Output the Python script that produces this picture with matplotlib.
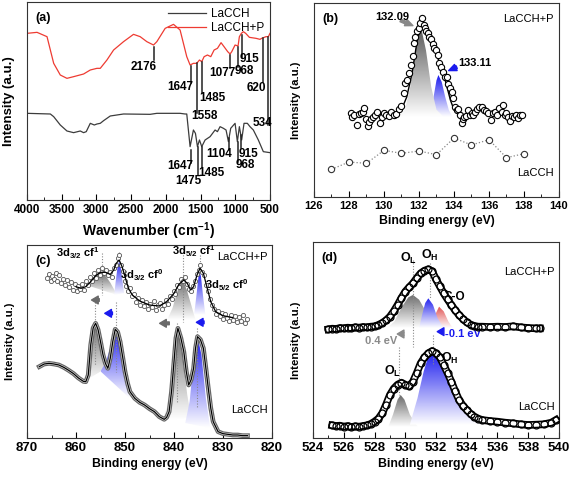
import numpy as np
import matplotlib
matplotlib.use('Agg')
import matplotlib.pyplot as plt
import matplotlib.colors as mcolors
import matplotlib.patheffects as pe
from matplotlib.patches import Polygon
from matplotlib.ticker import MultipleLocator

plt.rcParams['font.family'] = ['Liberation Sans', 'DejaVu Sans']
plt.rcParams['mathtext.fontset'] = 'custom'
plt.rcParams['mathtext.rm'] = 'Liberation Sans:bold'
plt.rcParams['mathtext.it'] = 'Liberation Sans:bold'
plt.rcParams['mathtext.bf'] = 'Liberation Sans:bold'

RED = '#ee3b32'
DARK = '#3c3c3c'
GREY = '#6a6a6a'
BLUE = '#1a1aee'

# ---------------- (a) FTIR ----------------
wn_p = [4000, 3856, 3712, 3664, 3616, 3521, 3425, 3329, 3185, 3089, 2993, 2945, 2849, 2753,
        2610, 2466, 2370, 2274, 2178, 2130, 2010, 1890, 1795, 1747, 1699, 1651, 1603, 1555,
        1516, 1483, 1449, 1401, 1353, 1305, 1257, 1205, 1162, 1109, 1075, 1051, 1003, 960,
        941, 912, 884, 850, 797, 701, 644, 620, 558, 524, 500]
ftir_p = [500, 503, 490, 450, 410, 375, 365, 370, 378, 390, 395, 395, 420, 450,
          475, 497, 490, 475, 465, 475, 515, 527, 510, 470, 430, 405, 410, 410,
          420, 415, 430, 435, 430, 450, 455, 472, 460, 445, 438, 445, 465, 462,
          490, 500, 505, 500, 488, 485, 482, 485, 490, 490, 500]
wn_0 = [4000, 3664, 3616, 3521, 3425, 3329, 3233, 3185, 3147, 3089, 3031, 2993, 2945, 2897,
        2801, 2610, 2226, 2130, 1795, 1723, 1699, 1651, 1603, 1574, 1545, 1516, 1483, 1435,
        1363, 1291, 1257, 1219, 1171, 1133, 1099, 1066, 1003, 970, 941, 908, 874, 826,
        788, 740, 668, 596, 500]
ftir_0 = [260, 258, 250, 225, 207, 202, 207, 202, 205, 230, 225, 228, 230, 238,
          252, 258, 257, 260, 260, 258, 258, 160, 210, 200, 160, 180, 160, 180,
          190, 210, 205, 220, 215, 210, 175, 215, 230, 175, 220, 180, 230, 230,
          220, 210, 180, 145, 142]

mark_p_x = [2168, 1641, 1555, 1483, 1075, 955, 908, 605, 524]
mark_p_top = [460, 402, 410, 415, 435, 460, 495, 485, 490]
mark_p_bot = [420, 350, 260, 320, 395, 400, 430, 355, 225]
mark_p_txt = ['2176', '1647', '1558', '1485', '1077', '968', '915', '620', '534']
mark_p_tx = [2322, 1795, 1444, 1334, 1181, 874, 797, 701, 615]
mark_p_ty = [400, 340, 252, 305, 382, 387, 422, 335, 230]

mark_0_x = [1641, 1540, 1473, 1095, 965, 912]
mark_0_top = [150, 160, 160, 185, 175, 195]
mark_0_bot = [110, 75, 100, 150, 115, 155]
mark_0_txt = ['1647', '1475', '1485', '1104', '968', '915']
mark_0_tx = [1795, 1679, 1344, 1229, 860, 807]
mark_0_ty = [103, 58, 80, 137, 105, 138]

# ---------------- (b) P 2p ----------------
p_be = [128.09, 128.18, 128.31, 128.43, 128.56, 128.69, 128.81, 128.88, 129.00, 129.07,
        129.13, 129.26, 129.38, 129.51, 129.60, 129.76, 129.89, 130.02, 130.14, 130.27,
        130.40, 130.55, 130.71, 130.84, 130.97, 131.12, 131.22, 131.31, 131.41, 131.54,
        131.65, 131.69, 131.79, 131.88, 131.98, 132.07, 132.17, 132.26, 132.32, 132.41,
        132.49, 132.58, 132.68, 132.79, 132.87, 132.96, 133.06, 133.17, 133.27, 133.36,
        133.49, 133.59, 133.68, 133.78, 133.87, 133.97, 134.06, 134.16, 134.25, 134.35,
        134.44, 134.50, 134.58, 134.69, 134.82, 134.92, 135.01, 135.11, 135.20, 135.33,
        135.45, 135.58, 135.71, 135.83, 135.96, 136.09, 136.21, 136.34, 136.47, 136.59,
        136.72, 136.81, 136.91, 137.00, 137.10, 137.19, 137.29, 137.42, 137.53, 137.67,
        137.76, 137.86]
p_int = [251, 239, 246, 216, 249, 251, 256, 266, 233, 213,
         226, 233, 239, 246, 256, 221, 241, 251, 246, 243,
         256, 246, 249, 263, 273, 313, 341, 351, 371, 396,
         423, 461, 481, 499, 506, 521, 536, 516, 506, 499,
         491, 481, 473, 458, 446, 441, 426, 403, 391, 376,
         359, 361, 339, 326, 316, 296, 271, 261, 263, 246,
         221, 233, 239, 243, 261, 246, 251, 246, 256, 263,
         269, 269, 261, 259, 253, 231, 251, 256, 246, 266,
         256, 276, 246, 253, 239, 229, 243, 241, 246, 236,
         246, 246]
p_fit_be = [129.6, 130.5, 131.0, 131.3, 131.6, 131.9, 132.1, 132.3, 132.6, 132.9,
            133.2, 133.5, 133.8, 134.0, 134.3]
p_fit = [248, 250, 262, 300, 370, 470, 512, 505, 470, 440, 400, 350, 290, 262, 250]
p_grey_be = [130.8, 131.2, 131.5, 131.8, 132.09, 132.4, 132.7, 133.0, 133.4]
p_grey = [241, 262, 330, 440, 516, 440, 330, 262, 241]
p_blue_be = [132.6, 132.8, 133.0, 133.11, 133.3, 133.5, 133.7, 133.9]
p_blue = [241, 290, 350, 366, 345, 300, 262, 241]
lacch_be = [127, 128, 129, 130, 131, 132, 133, 134, 135, 136, 137, 138]
lacch_p = [83, 105, 101, 140, 131, 138, 127, 177, 156, 172, 118, 130]

# ---------------- (c) La 3d ----------------
la_up_be = [866.0, 865.6, 865.2, 864.9, 864.5, 864.1, 863.8, 863.4, 863.0, 862.6, 862.2,
            861.9, 861.5, 861.1, 860.7, 860.3, 859.9, 859.5, 859.1, 858.7, 858.3, 857.9,
            857.5, 857.1, 856.7, 856.3, 855.9, 855.5, 855.1, 854.7, 854.3, 853.9, 853.5,
            853.1, 852.7, 852.3, 851.9, 851.5, 851.2, 850.9, 850.5, 850.1, 849.7, 849.3,
            848.9, 848.5, 848.1, 847.7, 847.3, 846.9, 846.5, 846.1, 845.7, 845.3, 844.9,
            844.5, 844.1, 843.7, 843.3, 842.9, 842.5, 842.1, 841.7, 841.3, 840.9, 840.5,
            840.1, 839.7, 839.3, 838.9, 838.5, 838.1, 837.7, 837.3, 836.9, 836.5, 836.1,
            835.7, 835.3, 834.9, 834.6, 834.3, 833.9, 833.5, 833.1, 832.7, 832.3, 831.9,
            831.5, 831.1, 830.7, 830.3, 829.9, 829.5, 829.1, 828.7, 828.3, 827.9, 827.5,
            827.1, 826.7, 826.3, 825.9, 825.5, 825.1]
la_up = [480, 492, 470, 486, 476, 495, 472, 488, 465, 478, 460,
         475, 452, 468, 445, 462, 440, 455, 448, 462, 444, 470,
         458, 482, 470, 495, 480, 505, 490, 510, 495, 505, 488,
         498, 482, 510, 520, 540, 548, 520, 500, 470, 455, 440,
         450, 425, 432, 408, 420, 400, 415, 395, 408, 388, 402,
         392, 410, 385, 398, 405, 388, 400, 415, 402, 425, 418,
         440, 432, 458, 452, 478, 470, 482, 462, 448, 440, 455,
         470, 492, 505, 518, 498, 488, 460, 440, 418, 400, 388,
         372, 382, 365, 375, 358, 372, 360, 350, 368, 355, 365,
         348, 362, 352, 368, 345, 358]
la_up_fit_be = [860, 859, 858, 857, 856, 855, 854, 853, 852.3, 851.8, 851.2, 850.6, 850,
                849.3, 848.5, 847, 845, 843, 841.5, 840, 839, 838, 837.3, 836.6, 836,
                835.3, 834.7, 834, 833.3, 832.5, 831.5, 830, 828]
la_up_fit = [454, 449, 454, 469, 487, 497, 497, 491, 504, 524, 534, 514, 484,
             449, 429, 411, 399, 396, 409, 434, 461, 474, 464, 444, 454,
             489, 509, 494, 454, 409, 379, 367, 361]
la_lo_be = [867.5, 866.5, 865.5, 864.5, 863.5, 862.5, 861.5, 860.5, 859.5, 858.5, 858.0,
            857.5, 857.0, 856.5, 856.0, 855.5, 855.0, 854.5, 854.0, 853.5, 853.0, 852.5,
            852.0, 851.5, 851.0, 850.5, 850.0, 849.5, 849.0, 848.0, 847.0, 846.0, 845.0,
            844.0, 843.0, 842.0, 841.5, 841.0, 840.5, 840.0, 839.6, 839.2, 838.6, 838.0,
            837.5, 837.0, 836.5, 836.0, 835.6, 835.2, 834.6, 834.0, 833.5, 833.0, 832.5,
            832.0, 831.0, 830.0, 829.0, 828.0, 827.0, 826.0, 825.0]
la_lo = [214, 222, 224, 222, 219, 212, 203, 193, 180, 170, 169,
         189, 279, 330, 344, 325, 289, 250, 224, 209, 240, 289,
         326, 318, 289, 245, 199, 165, 139, 119, 107, 99, 88,
         79, 64, 56, 62, 79, 140, 229, 300, 329, 300, 259,
         200, 159, 175, 209, 270, 304, 295, 269, 210, 149, 90,
         49, 19, 13, 11, 9, 9, 7, 7]
la_peaks_be = [
    [857.9, 857.0, 856.2, 855.4, 854.6, 853.8, 853.0, 852.2, 851.6],
    [852.2, 851.9, 851.5, 851.2, 850.9, 850.6, 850.2],
    [841.4, 840.3, 839.3, 838.3, 837.4, 836.5, 835.6],
    [835.9, 835.4, 835.0, 834.8, 834.5, 834.1, 833.6],
    [858.1, 857.5, 856.8, 856.0, 855.3, 854.6, 853.8],
    [855.0, 854.0, 853.0, 852.3, 851.8, 851.2, 850.5, 849.8, 849.0],
    [842.4, 841.2, 840.2, 839.2, 838.3, 837.3, 836.5],
    [837.7, 836.8, 836.0, 835.2, 834.4, 833.5, 832.6],
]
la_peaks = [
    [459, 470, 486, 496, 494, 483, 466, 445, 429],
    [429, 470, 515, 529, 515, 480, 435],
    [354, 390, 440, 478, 445, 400, 354],
    [369, 430, 485, 501, 485, 430, 369],
    [172, 240, 310, 344, 310, 240, 210],
    [200, 225, 270, 315, 326, 310, 250, 170, 119],
    [54, 100, 230, 329, 250, 130, 60],
    [45, 110, 230, 304, 250, 120, 30],
]
la_peak_col = [GREY, BLUE, GREY, BLUE, GREY, BLUE, GREY, BLUE]
la_dot_be = [854.7, 851.2, 838.2, 834.7, 856.1, 851.9, 839.3, 835.3]
la_dot_top = [555, 559, 559, 549, 409, 409, 344, 329]
la_dot_bot = [430, 529, 349, 504, 219, 199, 109, 89]
la_arr = [(854.7, 857.4, 414, GREY), (852.0, 854.7, 374, BLUE),
          (840.4, 843.5, 344, GREY), (833.3, 836.0, 347, BLUE)]

# ---------------- (d) O 1s ----------------
o_up_be = [525.0, 525.25, 525.5, 525.75, 526.0, 526.25, 526.5, 526.75, 527.0, 527.25, 527.5,
           527.75, 528.0, 528.25, 528.5, 528.75, 529.0, 529.25, 529.5, 529.75, 530.0, 530.25,
           530.5, 530.75, 531.0, 531.25, 531.5, 531.75, 532.0, 532.25, 532.5, 532.75, 533.0,
           533.25, 533.5, 533.75, 534.0, 534.25, 534.5, 534.75, 535.0, 535.5, 536.0, 536.5,
           537.0, 537.5, 538.0, 538.5, 538.75]
o_up = [326, 328, 327, 330, 329, 331, 330, 332, 331, 333, 332,
        334, 335, 339, 345, 353, 364, 380, 399, 420, 439, 452,
        464, 480, 494, 502, 506, 500, 476, 455, 434, 416, 399,
        383, 369, 357, 347, 340, 336, 334, 334, 333, 334, 333,
        335, 332, 330, 329, 329]
o_lo_be = [525.25, 525.5, 525.75, 526.0, 526.25, 526.5, 526.75, 527.0, 527.25, 527.5, 527.75,
           528.0, 528.25, 528.5, 528.75, 529.0, 529.25, 529.5, 529.75, 530.0, 530.25, 530.5,
           530.75, 531.0, 531.25, 531.5, 531.75, 532.0, 532.25, 532.5, 532.75, 533.0, 533.25,
           533.5, 533.75, 534.0, 534.25, 534.5, 534.75, 535.0, 535.5, 536.0, 536.5, 537.0,
           537.5, 538.0, 538.5, 539.0, 539.5, 539.8]
o_lo = [38, 36, 37, 34, 36, 33, 35, 34, 36, 38, 42,
        49, 58, 74, 100, 129, 148, 160, 166, 160, 155, 169,
        195, 224, 242, 254, 261, 254, 242, 219, 195, 169, 140,
        114, 97, 84, 72, 64, 58, 54, 51, 49, 46, 44,
        41, 39, 40, 41, 46, 54]
o_peaks_be = [
    [528.8, 529.3, 529.8, 530.2, 530.5, 530.9, 531.4, 531.9, 532.3],
    [531.8, 532.0, 532.2, 532.5, 532.8, 533.1],
    [530.9, 531.1, 531.3, 531.5, 531.8, 532.1, 532.5],
    [528.9, 529.2, 529.5, 529.7, 529.95, 530.3, 530.8],
    [530.3, 530.8, 531.2, 531.5, 531.8, 532.2, 532.6, 533.0, 533.5, 534.0, 534.5, 535.5],
]
o_peaks = [
    [329, 350, 395, 422, 429, 415, 375, 340, 329],
    [329, 375, 394, 380, 350, 329],
    [329, 370, 405, 419, 400, 360, 329],
    [34, 70, 115, 129, 115, 70, 34],
    [40, 120, 200, 245, 264, 250, 210, 160, 110, 75, 55, 40],
]
o_peak_col = [GREY, '#e05050', BLUE, GREY, BLUE]
o_dot_be = [530.5, 531.6, 529.6, 531.8]
o_dot_top = [534, 524, 274, 310]
o_dot_bot = [274, 419, 129, 220]


def grad_peak(ax, x, y, color, z=2):
    x = np.asarray(x, float)
    y = np.asarray(y, float)
    poly = Polygon(np.column_stack([x, y]), closed=True, fc='none', ec='none')
    ax.add_patch(poly)
    cmap = mcolors.LinearSegmentedColormap.from_list('', ['white', color])
    ramp = np.linspace(0, 1, 128).reshape(-1, 1)
    im = ax.imshow(ramp, cmap=cmap, aspect='auto', origin='lower', interpolation='bilinear',
                   extent=[x.min(), x.max(), y.min(), y.max()], zorder=z)
    im.set_clip_path(poly)


def style_ax(ax, xlabel, maj, mnr, fs, xfs, yfs):
    ax.set_yticks([])
    ax.xaxis.set_major_locator(MultipleLocator(maj))
    ax.xaxis.set_minor_locator(MultipleLocator(mnr))
    ax.tick_params(axis='x', which='major', direction='in', length=4, width=0.8,
                   labelsize=fs, pad=3)
    ax.tick_params(axis='x', which='minor', direction='in', length=2, width=0.6)
    for lab in ax.get_xticklabels():
        lab.set_fontweight('bold')
    for s in ax.spines.values():
        s.set_linewidth(0.8)
        s.set_color('#333333')
    ax.set_xlabel(xlabel, fontsize=xfs, fontweight='bold', labelpad=3)
    ax.set_ylabel('Intensity (a.u.)', fontsize=yfs, fontweight='bold', labelpad=9)


def chain(ax, x, y, outer, inner, lw_o, lw_i, z=4):
    ax.plot(x, y, color=inner, lw=lw_i, zorder=z, solid_joinstyle='round',
            path_effects=[pe.Stroke(linewidth=lw_o, foreground=outer), pe.Normal()])


fig = plt.figure(figsize=(5.69, 4.79), dpi=100)
axa = fig.add_axes([0.0475, 0.5825, 0.427, 0.4133])
axb = fig.add_axes([0.5518, 0.5887, 0.4306, 0.405])
axc = fig.add_axes([0.0475, 0.0856, 0.4305, 0.4029])
axd = fig.add_axes([0.5501, 0.0856, 0.4323, 0.4092])

# (a)
axa.plot(wn_0, ftir_0, color=DARK, lw=0.9, label='LaCCH')
axa.plot(wn_p, ftir_p, color=RED, lw=0.9, label='LaCCH+P')
for x, t, b in zip(mark_p_x + mark_0_x, mark_p_top + mark_0_top, mark_p_bot + mark_0_bot):
    axa.plot([x, x], [t, b], color='#222222', lw=1.1)
for s, x, y in zip(mark_p_txt + mark_0_txt, mark_p_tx + mark_0_tx, mark_p_ty + mark_0_ty):
    axa.text(x, y, s, fontsize=8.5, fontweight='bold', ha='center', va='center')
axa.set_xlim(4000, 500)
axa.set_ylim(0, 594)
axa.legend(loc='upper right', frameon=False, fontsize=8.5, handlelength=3.2,
           borderaxespad=0.1, handletextpad=0.4, labelspacing=0.15)
axa.text(0.035, 0.95, '(a)', transform=axa.transAxes, fontsize=9, fontweight='bold', va='top')
style_ax(axa, 'Wavenumber (cm$^{-1}$)', 500, 250, 8.5, 10, 9.5)

# (b)
grad_peak(axb, p_blue_be, p_blue, BLUE, z=2)
grad_peak(axb, p_grey_be, p_grey, '#555555', z=2.5)
axb.plot(p_fit_be, p_fit, color='black', lw=1, zorder=3)
axb.plot(p_be, p_int, 'o', ms=4.5, mfc='white', mec='black', mew=0.8, zorder=4)
axb.plot(lacch_be, lacch_p, ':', color='#888888', lw=0.9, marker='o', ms=4.5,
         mfc='white', mec='#333333', mew=0.8)
axb.annotate('', xy=(131.8, 511), xytext=(130.8, 533),
             arrowprops=dict(arrowstyle='simple,head_width=0.6,head_length=0.7,tail_width=0.25',
                             color='#888888', mutation_scale=8))
axb.annotate('', xy=(133.55, 376), xytext=(134.3, 393),
             arrowprops=dict(arrowstyle='simple,head_width=0.6,head_length=0.7,tail_width=0.25',
                             color=BLUE, mutation_scale=8))
axb.text(130.45, 541, '132.09', fontsize=8, fontweight='bold', ha='center', va='center')
axb.text(135.2, 403, '133.11', fontsize=8, fontweight='bold', ha='center', va='center')
axb.text(139.7, 533, 'LaCCH+P', fontsize=8, ha='right', va='center')
axb.text(139.7, 71, 'LaCCH', fontsize=8, ha='right', va='center')
axb.text(0.035, 0.95, '(b)', transform=axb.transAxes, fontsize=9, fontweight='bold', va='top')
axb.set_xlim(126, 140)
axb.set_ylim(0, 582)
style_ax(axb, 'Binding energy (eV)', 2, 1, 8, 8.8, 8.2)

# (c)
for bx, by, col in zip(la_peaks_be, la_peaks, la_peak_col):
    grad_peak(axc, bx, by, col, z=2)
for x, t, b in zip(la_dot_be, la_dot_top, la_dot_bot):
    axc.plot([x, x], [t, b], ls=(0, (1, 1.5)), color='#8a8a8a', lw=0.8, zorder=3)
axc.plot(la_up_be, la_up, 'o', ms=3, mfc='white', mec='#555555', mew=0.6, zorder=4)
axc.plot(la_up_fit_be, la_up_fit, color='black', lw=0.9, zorder=5)
chain(axc, la_lo_be, la_lo, '#666666', '#eeeeee', 3.4, 1.6, z=4)
axc.plot(la_lo_be, la_lo, color='black', lw=0.9, zorder=5)
for x1, x0, y, col in la_arr:
    axc.annotate('', xy=(x0, y), xytext=(x1, y),
                 arrowprops=dict(arrowstyle='simple,head_width=0.7,head_length=0.6,tail_width=0.25',
                                 color=col, mutation_scale=8))
axc.text(859.7, 554, '3d$_{3/2}$ cf$^1$', fontsize=8, fontweight='bold', ha='center', va='center')
axc.text(846.7, 489, '3d$_{3/2}$ cf$^0$', fontsize=8, fontweight='bold', ha='center', va='center')
axc.text(835.9, 559, '3d$_{5/2}$ cf$^1$', fontsize=8, fontweight='bold', ha='center', va='center')
axc.text(829.2, 457, '3d$_{5/2}$ cf$^0$', fontsize=8, fontweight='bold', ha='center', va='center')
axc.text(820.8, 544, 'LaCCH+P', fontsize=8, ha='right', va='center')
axc.text(820.8, 84, 'LaCCH', fontsize=8, ha='right', va='center')
axc.text(0.035, 0.95, '(c)', transform=axc.transAxes, fontsize=9, fontweight='bold', va='top')
axc.set_xlim(870, 820)
axc.set_ylim(0, 579)
style_ax(axc, 'Binding energy (eV)', 10, 5, 9.5, 8.8, 8.2)

# (d)
for bx, by, col in zip(o_peaks_be, o_peaks, o_peak_col):
    grad_peak(axd, bx, by, col, z=2)
for x, t, b in zip(o_dot_be, o_dot_top, o_dot_bot):
    axd.plot([x, x], [t, b], ls=(0, (1, 1.5)), color='#8a8a8a', lw=0.8, zorder=3)
chain(axd, o_up_be, o_up, 'black', 'white', 5.5, 3, z=4)
axd.plot(o_up_be, o_up, 'o', ms=5, mfc='none', mec='black', mew=0.9, zorder=5)
chain(axd, o_lo_be, o_lo, 'black', 'white', 5.5, 3, z=4)
axd.plot(o_lo_be, o_lo, 'o', ms=5, mfc='none', mec='black', mew=0.9, zorder=5)
axd.annotate('', xy=(529.3, 312), xytext=(530.1, 312),
             arrowprops=dict(arrowstyle='simple,head_width=0.7,head_length=0.6,tail_width=0.25',
                             color='#8a8a8a', mutation_scale=8))
axd.annotate('', xy=(531.9, 319), xytext=(532.55, 319),
             arrowprops=dict(arrowstyle='simple,head_width=0.7,head_length=0.6,tail_width=0.25',
                             color=BLUE, mutation_scale=8))
axd.text(528.4, 290, '0.4 eV', fontsize=8, fontweight='bold', color='#8a8a8a', ha='center', va='center')
axd.text(532.6, 312, '-0.1 eV', fontsize=8, fontweight='bold', color=BLUE, ha='left', va='center')
axd.text(530.2, 540, 'O$_L$', fontsize=9, fontweight='bold', ha='center', va='center')
axd.text(531.6, 549, 'O$_H$', fontsize=9, fontweight='bold', ha='center', va='center')
axd.text(533.2, 424, 'C-O', fontsize=8.5, fontweight='bold', ha='center', va='center')
axd.text(532.9, 239, 'O$_H$', fontsize=9, fontweight='bold', ha='center', va='center')
axd.text(529.2, 199, 'O$_L$', fontsize=9, fontweight='bold', ha='center', va='center')
axd.text(539.7, 499, 'LaCCH+P', fontsize=8, ha='right', va='center')
axd.text(539.7, 94, 'LaCCH', fontsize=8, ha='right', va='center')
axd.text(0.035, 0.95, '(d)', transform=axd.transAxes, fontsize=9, fontweight='bold', va='top')
axd.set_xlim(524, 540)
axd.set_ylim(0, 588)
style_ax(axd, 'Binding energy (eV)', 2, 1, 9.5, 8.8, 8.2)

fig.savefig('out.png', dpi=100)
